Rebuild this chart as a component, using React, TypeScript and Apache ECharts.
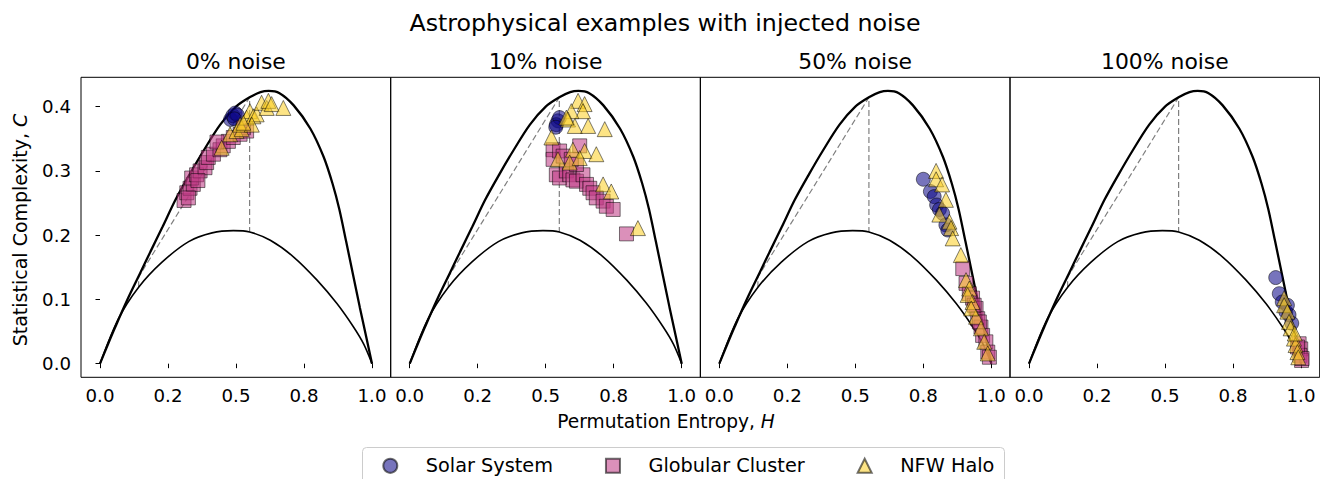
import React, { useEffect, useRef } from 'react';
import * as echarts from 'echarts';

// ---------- text / ticks ----------
const suptitle = 'Astrophysical examples with injected noise';
const panelTitles = ['0% noise', '10% noise', '50% noise', '100% noise'];
const xTickValues = [0, 0.25, 0.5, 0.75, 1.0];
const xTickLabels = ['0.0', '0.2', '0.5', '0.8', '1.0'];
const yTickValues = [0, 0.1, 0.2, 0.3, 0.4];
const yTickLabels = ['0.0', '0.1', '0.2', '0.3', '0.4'];
const seriesNames = ['Solar System', 'Globular Cluster', 'NFW Halo'];

// ---------- boundary curves ----------
const upperCurve = [
  [0, 0], [0.03, 0.031], [0.056, 0.057], [0.1, 0.099], [0.15, 0.143], [0.185, 0.174],
  [0.23, 0.213], [0.277, 0.2546], [0.33, 0.295], [0.38, 0.331], [0.442, 0.372],
  [0.5, 0.4], [0.55, 0.4145], [0.59, 0.4225], [0.62, 0.4245], [0.66, 0.421],
  [0.712, 0.402], [0.773, 0.366], [0.822, 0.322], [0.855, 0.28], [0.88, 0.24],
  [0.905, 0.19], [0.932, 0.135], [0.955, 0.088], [0.978, 0.043], [1.0, 0],
];
const lowerCurve = [
  [0, 0], [0.068, 0.07], [0.142, 0.119], [0.228, 0.158], [0.326, 0.19], [0.412, 0.2036],
  [0.49, 0.207], [0.55, 0.205], [0.626, 0.192], [0.712, 0.166], [0.798, 0.13],
  [0.871, 0.0935], [0.932, 0.057], [0.97, 0.03], [1.0, 0],
];
const dashedGuide = [[0.142, 0.119], [0.142, 0.135], [0.55, 0.4145], [0.55, 0.205]];

// ---------- scatter data: 0% noise ----------
const solar0 = [[0.48, 0.38], [0.488, 0.386], [0.497, 0.39], [0.505, 0.387], [0.494, 0.381]];
const globular0 = [
  [0.309, 0.254], [0.319, 0.266], [0.331, 0.273], [0.343, 0.279], [0.337, 0.289], [0.355, 0.294],
  [0.368, 0.3], [0.386, 0.305], [0.392, 0.313], [0.398, 0.321], [0.417, 0.326], [0.441, 0.333],
  [0.453, 0.339], [0.472, 0.346], [0.49, 0.352], [0.515, 0.357], [0.539, 0.362], [0.527, 0.367],
  [0.325, 0.258], [0.36, 0.285], [0.43, 0.345],
];
const nfw0 = [
  [0.447, 0.336], [0.478, 0.357], [0.502, 0.362], [0.521, 0.365], [0.515, 0.372], [0.539, 0.383],
  [0.551, 0.393], [0.564, 0.385], [0.576, 0.388], [0.594, 0.406], [0.613, 0.398], [0.619, 0.409],
  [0.631, 0.404], [0.674, 0.398], [0.558, 0.372], [0.527, 0.375],
];
// ---------- 10% noise ----------
const solar10 = [[0.545, 0.378], [0.539, 0.372], [0.551, 0.383], [0.537, 0.368]];
const globular10 = [
  [0.527, 0.333], [0.527, 0.318], [0.551, 0.331], [0.564, 0.323], [0.539, 0.294], [0.551, 0.289],
  [0.576, 0.3], [0.588, 0.294], [0.6, 0.286], [0.613, 0.284], [0.625, 0.339], [0.637, 0.294],
  [0.65, 0.279], [0.662, 0.273], [0.674, 0.266], [0.686, 0.258], [0.711, 0.253], [0.723, 0.245],
  [0.748, 0.24], [0.797, 0.202], [0.613, 0.31], [0.594, 0.318],
];
const nfw10 = [
  [0.619, 0.409], [0.643, 0.404], [0.637, 0.393], [0.594, 0.393], [0.582, 0.38], [0.607, 0.37],
  [0.656, 0.37], [0.717, 0.365], [0.521, 0.352], [0.6, 0.333], [0.643, 0.331], [0.686, 0.326],
  [0.545, 0.318], [0.588, 0.313], [0.625, 0.32], [0.711, 0.279], [0.741, 0.268], [0.839, 0.211],
  [0.576, 0.383],
];
// ---------- 50% noise ----------
const solar50 = [
  [0.75, 0.287], [0.776, 0.268], [0.79, 0.26], [0.799, 0.247], [0.809, 0.24], [0.821, 0.234],
  [0.833, 0.216], [0.84, 0.208],
];
const globular50 = [
  [0.895, 0.148], [0.907, 0.125], [0.919, 0.109], [0.931, 0.102], [0.944, 0.086], [0.95, 0.07],
  [0.962, 0.057], [0.968, 0.044], [0.98, 0.034], [0.987, 0.018], [0.993, 0.01], [0.937, 0.091],
  [0.956, 0.065],
];
const nfw50 = [
  [0.797, 0.3], [0.797, 0.287], [0.819, 0.279], [0.833, 0.255], [0.809, 0.232], [0.846, 0.221],
  [0.852, 0.211], [0.858, 0.195], [0.888, 0.169], [0.907, 0.13], [0.919, 0.117], [0.931, 0.096],
  [0.944, 0.073], [0.962, 0.055], [0.974, 0.034], [0.987, 0.016], [0.913, 0.107], [0.926, 0.086],
];
// ---------- 100% noise ----------
const solar100 = [
  [0.907, 0.134], [0.92, 0.109], [0.931, 0.096], [0.944, 0.081], [0.956, 0.076], [0.966, 0.063],
  [0.95, 0.091],
];
const globular100 = [
  [0.993, 0.031], [0.999, 0.023], [0.996, 0.013], [1.002, 0.005], [0.987, 0.026], [1.004, 0.008],
];
const nfw100 = [
  [0.938, 0.102], [0.938, 0.091], [0.95, 0.081], [0.956, 0.065], [0.962, 0.055], [0.974, 0.039],
  [0.98, 0.029], [0.987, 0.018], [0.99, 0.01], [0.977, 0.047],
];

const solarPanels = [solar0, solar10, solar50, solar100];
const globularPanels = [globular0, globular10, globular50, globular100];
const nfwPanels = [nfw0, nfw10, nfw50, nfw100];

export default function App() {
  const ref = useRef<HTMLDivElement>(null);

  useEffect(() => {
    const chart = echarts.init(ref.current as HTMLDivElement, null, { renderer: 'svg' });
    const FONT = 'DejaVu Sans';
    const lefts = [81, 390.7, 700.3, 1010];
    const W = 309.7;
    const TOP = 77.3;
    const HGT = 300;

    const grids = lefts.map((l) => ({
      left: l, top: TOP, width: W, height: HGT, show: true,
      borderColor: '#000', borderWidth: 1, backgroundColor: 'transparent',
    }));

    const xAxes = lefts.map((_, i) => ({
      type: 'value', gridIndex: i, min: -0.0699, max: 1.0687,
      axisLine: { show: false }, splitLine: { show: false },
      axisTick: { show: true, customValues: xTickValues, length: 4.5, lineStyle: { color: '#000', width: 1 } },
      axisLabel: {
        show: true, customValues: xTickValues, margin: 9, fontSize: 18.2, fontFamily: FONT, color: '#000',
        formatter: (v: number) => {
          const k = xTickValues.findIndex((t) => Math.abs(t - v) < 1e-6);
          return k >= 0 ? xTickLabels[k] : '';
        },
      },
    }));

    const yAxes = lefts.map((_, i) => ({
      type: 'value', gridIndex: i, min: -0.0212, max: 0.4457,
      axisLine: { show: false }, splitLine: { show: false },
      axisTick: { show: i === 0, customValues: yTickValues, length: 4.5, lineStyle: { color: '#000', width: 1 } },
      axisLabel: {
        show: i === 0, customValues: yTickValues, margin: 10, fontSize: 18.2, fontFamily: FONT, color: '#000',
        formatter: (v: number) => {
          const k = yTickValues.findIndex((t) => Math.abs(t - v) < 1e-6);
          return k >= 0 ? yTickLabels[k] : '';
        },
      },
    }));

    const markerStyles = [
      { symbol: 'circle', size: 14, color: 'rgba(13,8,135,0.7)' },
      { symbol: 'rect', size: 14, color: 'rgba(191,57,132,0.7)' },
      { symbol: 'triangle', size: 15, color: 'rgba(252,206,37,0.7)' },
    ];
    const panelData = [solarPanels, globularPanels, nfwPanels];

    const series: any[] = [];
    lefts.forEach((_, i) => {
      series.push({
        type: 'line', xAxisIndex: i, yAxisIndex: i, data: dashedGuide, symbol: 'none', silent: true,
        lineStyle: { color: '#808080', width: 1.2, type: [6, 3] }, z: 1,
      });
      series.push({
        type: 'line', xAxisIndex: i, yAxisIndex: i, data: lowerCurve, symbol: 'none', smooth: 0.3, silent: true,
        lineStyle: { color: '#000', width: 1.6 }, z: 2,
      });
      series.push({
        type: 'line', xAxisIndex: i, yAxisIndex: i, data: upperCurve, symbol: 'none', smooth: 0.3, silent: true,
        lineStyle: { color: '#000', width: 2.3 }, z: 2,
      });
      markerStyles.forEach((m, s) => {
        series.push({
          type: 'scatter', name: seriesNames[s], xAxisIndex: i, yAxisIndex: i,
          data: panelData[s][i], symbol: m.symbol, symbolSize: m.size, z: 3 + s,
          itemStyle: { color: m.color, borderColor: 'rgba(0,0,0,0.7)', borderWidth: 0.9 },
        });
      });
    });

    const centers = lefts.map((l) => l + W / 2);
    const graphic: any[] = [
      {
        type: 'rect', z: 0, silent: true,
        shape: { x: 362.5, y: 447.5, width: 642, height: 60, r: 4 },
        style: { fill: '#fff', stroke: '#cccccc', lineWidth: 1 },
      },
      {
        type: 'text', x: 665, y: 23.3,
        style: { text: suptitle, fontSize: 23.7, fontFamily: FONT, fill: '#000', align: 'center', verticalAlign: 'middle' },
      },
      ...panelTitles.map((t, i) => ({
        type: 'text', x: centers[i], y: 61.8,
        style: { text: t, fontSize: 21.9, fontFamily: FONT, fill: '#000', align: 'center', verticalAlign: 'middle' },
      })),
      {
        type: 'text', x: 666, y: 421,
        style: {
          text: '{a|Permutation Entropy, }{b|H}', align: 'center', verticalAlign: 'middle',
          rich: {
            a: { fontSize: 18.6, fontFamily: FONT, fill: '#000' },
            b: { fontSize: 18.6, fontFamily: FONT, fill: '#000', fontStyle: 'italic' },
          },
        },
      },
      {
        type: 'text', x: 19.5, y: 230, rotation: Math.PI / 2,
        style: {
          text: '{a|Statistical Complexity, }{b|C}', align: 'center', verticalAlign: 'middle',
          rich: {
            a: { fontSize: 19, fontFamily: FONT, fill: '#000' },
            b: { fontSize: 19, fontFamily: FONT, fill: '#000', fontStyle: 'italic' },
          },
        },
      },
    ];

    chart.setOption({
      animation: false,
      backgroundColor: '#fff',
      grid: grids,
      xAxis: xAxes,
      yAxis: yAxes,
      series,
      legend: {
        data: [
          { name: seriesNames[0], icon: 'circle' },
          { name: seriesNames[1], icon: 'rect' },
          { name: seriesNames[2], icon: 'triangle' },
        ],
        left: 382.3, top: 456.3, orient: 'horizontal', padding: 0,
        itemWidth: 14, itemHeight: 14, itemGap: 52, selectedMode: false,
        formatter: (name: string) => '{gap| }' + name,
        textStyle: {
          fontSize: 19.3, fontFamily: FONT, color: '#000',
          rich: { gap: { width: 23.5, fontSize: 19.3, fontFamily: FONT } },
        },
      },
      graphic,
    });

    return () => chart.dispose();
  }, []);

  return <div ref={ref} style={{ position: 'fixed', left: 0, top: 0, width: 1320, height: 479 }} />;
}
